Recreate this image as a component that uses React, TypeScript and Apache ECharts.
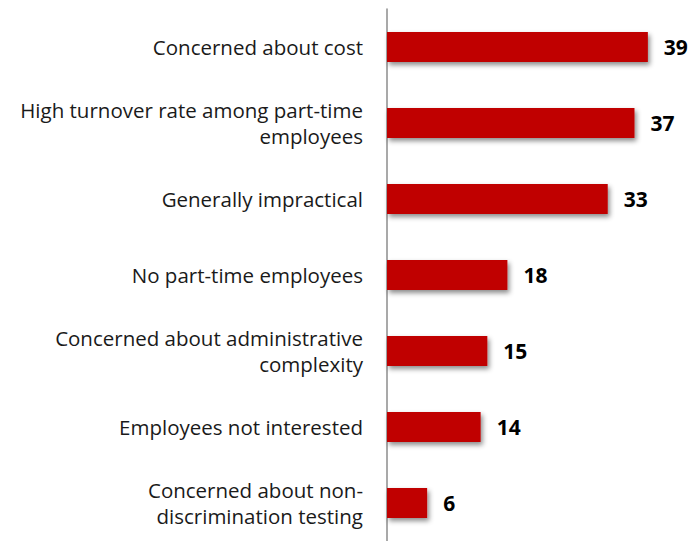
import React, { useEffect, useRef } from "react";
import * as echarts from "echarts";

const categories: string[] = [
  "Concerned about cost",
  "High turnover rate among part-time\nemployees",
  "Generally impractical",
  "No part-time employees",
  "Concerned about administrative\ncomplexity",
  "Employees not interested",
  "Concerned about non-\ndiscrimination testing",
];
const values: number[] = [39, 37, 33, 18, 15, 14, 6];

export default function App() {
  const ref = useRef<HTMLDivElement>(null);
  useEffect(() => {
    if (!ref.current) return;
    const chart = echarts.init(ref.current, undefined, { renderer: "svg" });
    chart.setOption({
      animation: false,
      backgroundColor: "#ffffff",
      grid: { left: 387, top: 9, height: 537, right: 4 },
      xAxis: {
        type: "value",
        min: 0,
        max: 45,
        show: false,
      },
      yAxis: {
        type: "category",
        data: categories,
        inverse: true,
        axisLine: { show: true, lineStyle: { color: "#8c8c8c", width: 1.5 } },
        axisTick: { show: false },
        axisLabel: {
          margin: 24,
          color: "#1a1a1a",
          fontFamily: "Open Sans",
          fontSize: 20.5,
          lineHeight: 26,
          align: "right",
        },
      },
      series: [
        {
          type: "bar",
          data: values,
          barWidth: 30,
          itemStyle: {
            color: "#C00000",
            shadowColor: "rgba(0,0,0,0.45)",
            shadowBlur: 5,
            shadowOffsetX: 2,
            shadowOffsetY: 3,
          },
          label: {
            show: true,
            position: "right",
            distance: 16,
            color: "#000",
            fontFamily: "Open Sans",
            fontWeight: "bold",
            fontSize: 21,
          },
        },
      ],
    });
    return () => chart.dispose();
  }, []);
  return (
    <div
      ref={ref}
      style={{ position: "absolute", left: 0, top: 0, width: 692, height: 541 }}
    />
  );
}
